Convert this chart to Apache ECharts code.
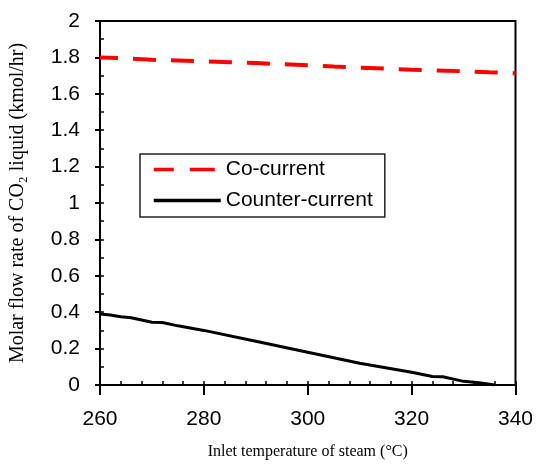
<!DOCTYPE html>
<html>
<head>
<meta charset="utf-8">
<script src="https://cdn.jsdelivr.net/npm/echarts@6/dist/echarts.min.js"></script>
<style>
html,body{margin:0;padding:0;background:#fff}
#chart{width:536px;height:473px}
</style>
</head>
<body>
<div id="chart"></div>
<script>
// inlet steam temperature (deg C) and CO2 liquid flow (kmol/hr)
const tempCo = [260, 265, 270, 275, 280, 285, 290, 295, 300, 305, 310, 315, 320, 325, 330, 335, 340]
const coCurrent = [1.80, 1.795, 1.787, 1.783, 1.778, 1.774, 1.769, 1.763, 1.757, 1.750, 1.744, 1.738, 1.732, 1.728, 1.724, 1.718, 1.713]

const tempCounter = [260, 262, 264, 266, 270, 272, 275, 280, 290, 300, 310, 320, 324, 326, 330, 333, 336]
const counterCurrent = [0.39, 0.385, 0.375, 0.37, 0.345, 0.343, 0.325, 0.30, 0.24, 0.18, 0.12, 0.07, 0.047, 0.045, 0.02, 0.012, 0.0]

const seriesNames = ["Co-current", "Counter-current"]

function pairs(xs, ys){
    return xs.map((x, i) => [x, ys[i]])
}

const sans = "Liberation Sans, Arial, sans-serif"
const serif = "Liberation Serif, Times New Roman, serif"

// legend marker: hide the symbol, keep the line
const noMarker = { color: "transparent", borderColor: "transparent", borderWidth: 0 }

let chart = echarts.init(document.getElementById("chart"))

chart.setOption({
    backgroundColor: "#fff",
    animation: false,
    grid: {
        left: 100, right: 20, top: 21, bottom: 88,
        show: true, borderColor: "#000", borderWidth: 2
    },
    legend: {
        orient: "vertical",
        left: 140, top: 154,
        padding: [5, 12, 6, 12],
        itemWidth: 67, itemHeight: 14, itemGap: 10,
        borderColor: "#222", borderWidth: 1.5,
        textStyle: { fontFamily: sans, fontSize: 21, color: "#000" },
        data: [
            { name: seriesNames[0], itemStyle: noMarker, lineStyle: { type: [25, 16], width: 3.5, color: "#ff0000" } },
            { name: seriesNames[1], itemStyle: noMarker, lineStyle: { type: "solid", width: 3.5, color: "#000" } }
        ]
    },
    xAxis: [{
        type: "value", min: 260, max: 340, interval: 20,
        name: "Inlet temperature of steam (\u00b0C)",
        nameLocation: "middle", nameGap: 59,
        nameTextStyle: { fontFamily: serif, fontSize: 16, color: "#000" },
        axisLine: { lineStyle: { color: "#000", width: 2 } },
        axisTick: { length: 10, lineStyle: { color: "#000", width: 2 } },
        axisLabel: { margin: 24, fontFamily: sans, fontSize: 21, color: "#000" },
        splitLine: { show: false }
    }, {
        type: "value", min: 260, max: 340, interval: 4, position: "bottom",
        axisLine: { show: false },
        axisTick: { inside: true, length: 4, lineStyle: { color: "#000", width: 1.5 } },
        axisLabel: { show: false },
        splitLine: { show: false }
    }],
    yAxis: [{
        type: "value", min: 0, max: 2, interval: 0.2,
        name: "Molar flow rate of CO\u2082 liquid (kmol/hr)",
        nameLocation: "middle", nameGap: 72,
        nameTextStyle: { fontFamily: serif, fontSize: 20, color: "#000" },
        axisLine: { lineStyle: { color: "#000", width: 2 } },
        axisTick: { length: 5, lineStyle: { color: "#000", width: 2 } },
        axisLabel: { margin: 20, fontFamily: sans, fontSize: 21, color: "#000",
            formatter: v => String(Math.round(v * 10) / 10) },
        splitLine: { show: false }
    }, {
        type: "value", min: 0, max: 2, interval: 0.1, position: "left",
        axisLine: { show: false },
        axisTick: { inside: true, length: 4, lineStyle: { color: "#000", width: 1.5 } },
        axisLabel: { show: false },
        splitLine: { show: false }
    }],
    series: [{
        name: seriesNames[0], type: "line", symbol: "none",
        data: pairs(tempCo, coCurrent),
        lineStyle: { color: "#ff0000", width: 4, type: [23, 15], dashOffset: 5 },
        itemStyle: { color: "#ff0000" }
    }, {
        name: seriesNames[1], type: "line", symbol: "none",
        data: pairs(tempCounter, counterCurrent),
        lineStyle: { color: "#000", width: 3 },
        itemStyle: { color: "#000" }
    }]
})
</script>
</body>
</html>
